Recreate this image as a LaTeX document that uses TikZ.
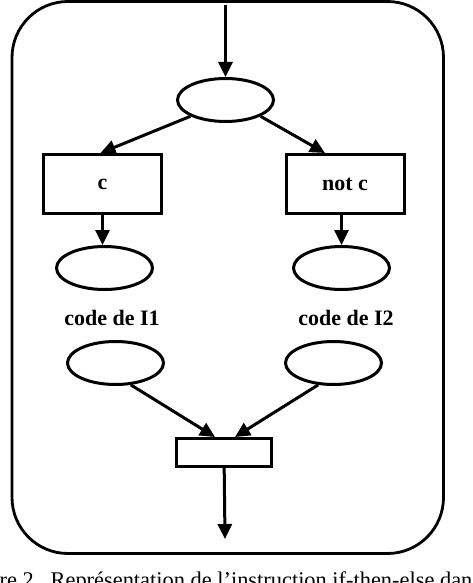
\documentclass[tikz,border=0pt]{standalone}
\usepackage{fontspec}
\setmainfont{Liberation Serif}
\usetikzlibrary{arrows.meta,shapes.geometric}

\begin{document}
\begin{tikzpicture}[x=1pt,y=-1pt,
  blob/.style={draw,ellipse,line width=3pt,minimum width=96pt,minimum height=43pt,inner sep=0pt},
  testbox/.style={draw,rectangle,line width=3pt,minimum width=118pt,minimum height=59pt,inner sep=0pt,
    font=\fontsize{22}{26}\selectfont\bfseries},
  lbl/.style={font=\fontsize{22}{26}\selectfont\bfseries},
  flow/.style={line width=3pt,-{Triangle[length=15pt,width=14pt]}}]
  \useasboundingbox (0,0) rectangle (472,583);
  \draw[line width=2.8pt,rounded corners=56pt] (12,1.5) rectangle (443.5,553.5);
  \coordinate (in) at (225.5,5);
  \coordinate (out) at (225,539);
  \node[blob] (top) at (225.5,100) {};
  \node[testbox] (c) at (102.5,184) {c};
  \node[testbox] (nc) at (345,184) {not c};
  \node[blob] (l1) at (104.5,268) {};
  \node[blob] (r1) at (341.5,268) {};
  \node[lbl] (code1) at (112,318) {code de I1};
  \node[lbl] (code2) at (346,318) {code de I2};
  \node[blob] (l2) at (115.5,363) {};
  \node[blob] (r2) at (333.5,363) {};
  \node[testbox,minimum width=95pt,minimum height=28pt] (bot) at (224,452.5) {};
  \draw[flow] (in) -- (top);
  \draw[flow] (top.south west) -- ([xshift=-2pt]c.north);
  \draw[flow] (top.south east) -- ([xshift=-20pt]nc.north);
  \draw[flow] (c.south) -- (c.south |- l1.north);
  \draw[flow] (nc.south -| r1.north) -- (r1.north);
  \draw[flow] (l2.-55) -- ([xshift=-9pt]bot.north);
  \draw[flow] (r2.-125) -- ([xshift=11pt]bot.north);
  \draw[flow] (bot) -- (out);
  \node[anchor=base,font=\fontsize{22.4}{26}\selectfont] (cap) at (236,587)
    {re 2.\hspace{0.5em}Représentation de l'instruction if-then-else dan};
\end{tikzpicture}
\end{document}
